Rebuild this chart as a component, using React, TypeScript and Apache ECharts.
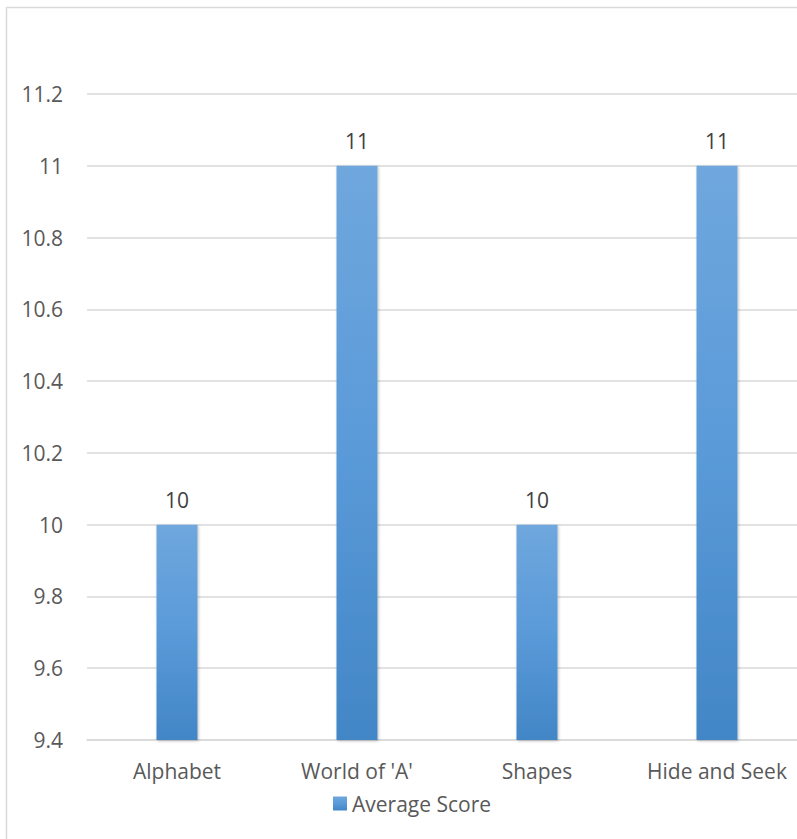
import React, { useEffect, useRef } from "react";
import * as echarts from "echarts";

const categories = ["Alphabet", "World of 'A'", "Shapes", "Hide and Seek"];
const averageScore = [10, 11, 10, 11];
const seriesName = "Average Score";

export default function App() {
  const ref = useRef<HTMLDivElement>(null);
  useEffect(() => {
    if (!ref.current) return;
    const chart = echarts.init(ref.current, undefined, { renderer: "svg" });
    const font = "'Open Sans', 'Noto Sans', sans-serif";
    chart.setOption({
      animation: false,
      backgroundColor: "#ffffff",
      textStyle: { fontFamily: font },
      graphic: [
        {
          type: "rect",
          shape: { x: 6.5, y: 7.5, width: 840, height: 860 },
          style: { fill: "none", stroke: "#d9d9d9", lineWidth: 1.5 },
          silent: true,
        },
      ],
      grid: { left: 87, top: 94, width: 720, height: 646, containLabel: false },
      legend: {
        show: true,
        top: 788,
        left: 328,
        itemWidth: 14,
        itemHeight: 14,
        itemGap: 6,
        icon: "rect",
        textStyle: { color: "#595959", fontSize: 21, fontFamily: font },
        data: [seriesName],
      },
      xAxis: {
        type: "category",
        data: categories,
        axisLine: { lineStyle: { color: "#d9d9d9", width: 1.5 } },
        axisTick: { show: false },
        axisLabel: { color: "#595959", fontSize: 21, margin: 20, fontFamily: font, interval: 0 },
      },
      yAxis: {
        type: "value",
        min: 9.4,
        max: 11.2,
        interval: 0.2,
        axisLine: { show: false },
        axisTick: { show: false },
        splitLine: { lineStyle: { color: "#d9d9d9", width: 1.5 } },
        axisLabel: {
          color: "#595959",
          fontSize: 21,
          margin: 24,
          fontFamily: font,
          formatter: (v: number) => String(Math.round(v * 10) / 10),
        },
      },
      series: [
        {
          name: seriesName,
          type: "bar",
          data: averageScore,
          barWidth: 41,
          itemStyle: {
            color: new echarts.graphic.LinearGradient(0, 0, 0, 1, [
              { offset: 0, color: "#6fa7dd" },
              { offset: 0.5, color: "#5a9ad9" },
              { offset: 1, color: "#4286c6" },
            ]),
            shadowColor: "rgba(0,0,0,0.25)",
            shadowBlur: 3,
            shadowOffsetX: 1,
            shadowOffsetY: 1,
          },
          label: {
            show: true,
            position: "top",
            distance: 14,
            color: "#404040",
            fontSize: 21,
            fontFamily: font,
          },
        },
      ],
    });
    return () => chart.dispose();
  }, []);
  return (
    <div style={{ position: "fixed", left: 0, top: 0, width: 797, height: 839, overflow: "hidden" }}>
      <div ref={ref} style={{ width: 840, height: 839 }} />
    </div>
  );
}
